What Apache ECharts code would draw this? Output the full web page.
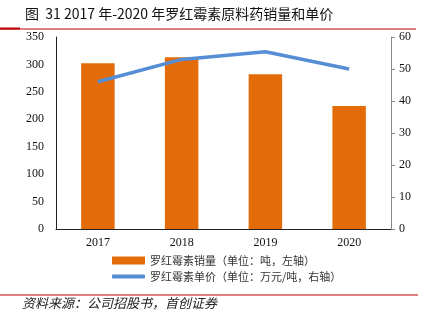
<!DOCTYPE html>
<html><head><meta charset="utf-8">
<script src="https://cdn.jsdelivr.net/npm/echarts@6/dist/echarts.min.js"></script>
<style>html,body{margin:0;padding:0;background:#fff}#c{width:436px;height:322px}</style>
</head><body><div id="c"></div>
<script>
const categories = ['2017','2018','2019','2020'];
const salesVolume = [302, 313, 282, 224];
const unitPrice = [46.0, 53.0, 55.4, 50.0];
const leftTicks = [0, 350, 50];
const rightTicks = [0, 60, 10];
const nameBar = '罗红霉素销量（单位：吨，左轴）';
const nameLine = '罗红霉素单价（单位：万元/吨，右轴）';

const chart = echarts.init(document.getElementById('c'));
const serif = '"Liberation Serif","Times New Roman",serif';
const cjk = '"Noto Sans CJK SC","Liberation Serif",sans-serif';
const legendText = {fontFamily: cjk, fontSize: 11, color: '#333'};
chart.setOption({
  animation: false,
  grid: {left: 56, right: 45, top: 37, bottom: 93},
  xAxis: {
    type: 'category', data: categories,
    axisLine: {lineStyle: {color: '#222', width: 1}},
    axisTick: {show: false},
    axisLabel: {fontFamily: serif, fontSize: 12, color: '#111', margin: 8}
  },
  yAxis: [{
    type: 'value', min: leftTicks[0], max: leftTicks[1], interval: leftTicks[2],
    axisLine: {show: true, lineStyle: {color: '#222'}},
    axisTick: {show: false},
    splitLine: {show: false},
    axisLabel: {fontFamily: serif, fontSize: 12, color: '#111', margin: 12}
  }, {
    type: 'value', min: rightTicks[0], max: rightTicks[1], interval: rightTicks[2],
    position: 'right',
    axisLine: {show: true, lineStyle: {color: '#888'}},
    axisTick: {show: true, length: 4, lineStyle: {color: '#888'}},
    splitLine: {show: false},
    axisLabel: {fontFamily: serif, fontSize: 12, color: '#111', margin: 8}
  }],
  legend: [{
    left: 107, top: 250, itemGap: 4,
    itemWidth: 33, itemHeight: 8, icon: 'rect',
    textStyle: legendText,
    data: [nameBar]
  }, {
    left: 107, top: 266, itemGap: 4,
    itemWidth: 33, itemHeight: 4, icon: 'roundRect',
    textStyle: legendText,
    data: [nameLine]
  }],
  series: [{
    name: nameBar, type: 'bar', data: salesVolume,
    barWidth: '40%', itemStyle: {color: '#E36C09'}
  }, {
    name: nameLine, type: 'line', yAxisIndex: 1,
    data: unitPrice, symbol: 'none', lineStyle: {color: '#558ED5', width: 3.5},
    itemStyle: {color: '#558ED5'}
  }],
  graphic: [
    {type: 'text', left: 25, top: 7, style: {text: '图  31 2017 年-2020 年罗红霉素原料药销量和单价', font: '14px "Noto Sans CJK SC", sans-serif', fill: '#111'}},
    {type: 'rect', shape: {x: 0, y: 28.5, width: 416, height: 1}, style: {fill: '#C00000'}},
    {type: 'rect', shape: {x: 0, y: 27.5, width: 20, height: 2}, style: {fill: '#C00000'}},
    {type: 'rect', shape: {x: 0, y: 294.5, width: 418, height: 1}, style: {fill: '#C00000'}},
    {type: 'text', left: 22, top: 297, style: {text: '资料来源：公司招股书，首创证券', font: 'italic 13px "Noto Sans CJK SC", sans-serif', fill: '#222'}}
  ]
});
</script></body></html>
